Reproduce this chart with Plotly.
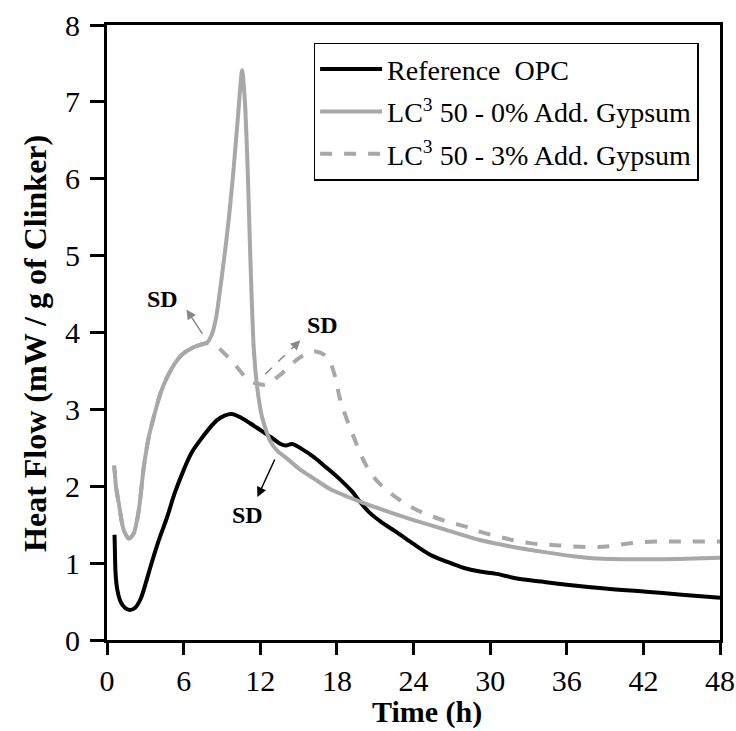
import plotly.graph_objects as go

# Reference OPC
opc_t = [0.59, 0.62, 0.67, 0.8, 1.06, 1.4, 1.78, 2.2, 2.62, 3.0, 3.4, 4.0, 4.71, 5.3, 6.0, 6.6, 7.3,
         8.0, 8.62, 9.2, 9.8, 10.5, 11.2, 12.1, 13.0, 13.6, 14.0, 14.5, 15.3, 16.2, 17.2, 18.3, 19.2,
         19.8, 20.6, 21.6, 22.7, 24.0, 25.3, 26.6, 27.9, 29.2, 30.5, 32.1, 34.0, 36.0, 39.0, 42.0,
         45.0, 48.0]
opc_q = [1.37, 1.15, 0.87, 0.66, 0.50, 0.42, 0.39, 0.42, 0.53, 0.72, 0.95, 1.27, 1.60, 1.91, 2.21,
         2.43, 2.60, 2.75, 2.86, 2.92, 2.94, 2.89, 2.82, 2.72, 2.62, 2.55, 2.53, 2.55, 2.48, 2.38,
         2.24, 2.08, 1.93, 1.80, 1.65, 1.52, 1.40, 1.25, 1.11, 1.02, 0.94, 0.89, 0.86, 0.80, 0.76,
         0.72, 0.67, 0.63, 0.59, 0.55]

# LC3 50 - 0% added gypsum
g0_t = [0.55, 0.6, 0.7, 0.92, 1.31, 1.71, 2.1, 2.49, 2.88, 3.27, 3.66, 4.19, 4.71, 5.49, 6.0, 6.8,
        7.3, 7.84, 8.2, 8.55, 8.85, 9.2, 9.55, 9.9, 10.25, 10.58, 10.8, 11.02, 11.2, 11.35, 11.49,
        11.75, 12.14, 12.8, 13.4, 14.1, 15.1, 16.2, 17.5, 19.8, 22.0, 24.0, 26.6, 29.2, 31.8, 34.4,
        36.5, 38.4, 41.0, 43.5, 46.0, 48.0]
g0_q = [2.27, 2.2, 2.0, 1.78, 1.43, 1.32, 1.39, 1.69, 2.25, 2.64, 2.90, 3.21, 3.42, 3.64, 3.73, 3.81,
        3.84, 3.87, 3.97, 4.2, 4.55, 5.0, 5.5, 6.1, 6.8, 7.41, 7.0, 6.1, 5.1, 4.35, 3.8,
        3.3, 2.90, 2.58, 2.45, 2.36, 2.22, 2.10, 1.96, 1.80, 1.67, 1.56, 1.43, 1.30, 1.21, 1.14,
        1.09, 1.06, 1.05, 1.05, 1.06, 1.07]

# LC3 50 - 3% added gypsum
g3_t = [0.55, 0.6, 0.7, 0.92, 1.31, 1.71, 2.1, 2.49, 2.88, 3.27, 3.66, 4.19, 4.71, 5.49, 6.0, 6.8,
        7.3, 7.84, 8.62, 9.3, 9.92, 10.97, 11.6, 12.27, 12.9, 13.57, 14.4, 15.14, 15.8, 16.45, 17.0,
        17.5, 17.9, 18.27, 19.2, 20.36, 21.2, 22.2, 23.4, 24.8, 26.5, 28.2, 29.2, 31.0, 33.1, 35.4,
        37.6, 39.3, 41.0, 43.0, 44.9, 48.0]
g3_q = [2.27, 2.2, 2.0, 1.78, 1.43, 1.32, 1.39, 1.69, 2.25, 2.64, 2.90, 3.21, 3.42, 3.64, 3.73, 3.81,
        3.84, 3.86, 3.81, 3.71, 3.60, 3.40, 3.34, 3.32, 3.37, 3.45, 3.58, 3.68, 3.74, 3.75, 3.71,
        3.60, 3.40, 3.12, 2.69, 2.25, 2.06, 1.91, 1.77, 1.65, 1.55, 1.47, 1.41, 1.33, 1.26, 1.23,
        1.21, 1.22, 1.26, 1.28, 1.28, 1.28]

x_ticks = [0, 6, 12, 18, 24, 30, 36, 42, 48]
y_ticks = [0, 1, 2, 3, 4, 5, 6, 7, 8]

GRAY = "#a8a8a8"
ARROW_GRAY = "#888888"
FONT = "Liberation Serif"

fig = go.Figure()
fig.add_trace(go.Scatter(x=opc_t, y=opc_q, mode="lines", name="Reference\u00a0 OPC", legendgroup="a",
                         line=dict(color="black", width=4, shape="spline", smoothing=1.0)))
fig.add_trace(go.Scatter(x=g0_t, y=g0_q, mode="lines", name="LC<sup>3</sup> 50 - 0% Add. Gypsum",
                         legendgroup="b",
                         line=dict(color=GRAY, width=4, shape="spline", smoothing=0.7)))
fig.add_trace(go.Scatter(x=g3_t, y=g3_q, mode="lines", name="LC<sup>3</sup> 50 - 3% Add. Gypsum",
                         legendgroup="c",
                         line=dict(color=GRAY, width=4, dash="dash", shape="spline", smoothing=1.0)))

sd_font = dict(family=FONT, size=24, color="black")
annotations = [
    dict(x=4.34, y=4.43, text="<b>SD</b>", showarrow=False, font=sd_font),
    dict(x=16.86, y=4.10, text="<b>SD</b>", showarrow=False, font=sd_font),
    dict(x=11.0, y=1.63, text="<b>SD</b>", showarrow=False, font=sd_font),
    dict(x=6.22, y=4.30, text="", showarrow=True, ax=17, ay=26, arrowhead=2, arrowsize=1.3,
         arrowwidth=1.5, arrowcolor=ARROW_GRAY, standoff=0),
    dict(x=15.14, y=3.90, text="", showarrow=True, ax=-8, ay=8, arrowhead=2, arrowsize=1.3,
         arrowwidth=1.5, arrowcolor=ARROW_GRAY, standoff=0),
    dict(x=11.78, y=1.86, text="", showarrow=True, ax=18, ay=-39, arrowhead=2, arrowsize=1.3,
         arrowwidth=1.5, arrowcolor="black", standoff=0),
    dict(x=0.522, y=-0.117, xref="paper", yref="paper", text="<b>Time (h)</b>", showarrow=False,
         font=dict(family=FONT, size=30, color="black"), xanchor="center", yanchor="middle"),
    dict(x=-0.1175, y=0.483, xref="paper", yref="paper", text="<b>Heat Flow (mW / g of Clinker)</b>",
         showarrow=False, font=dict(family=FONT, size=32, color="black"), textangle=-90,
         xanchor="center", yanchor="middle"),
]
fig.update_layout(annotations=annotations)
fig.add_shape(type="line", x0=12.40, y0=3.46, x1=14.9, y1=3.86, xref="x", yref="y",
              line=dict(color=ARROW_GRAY, width=1.5, dash="dash"))

fig.update_layout(
    width=736, height=731,
    margin=dict(l=107, r=16, t=25, b=91, autoexpand=False),
    paper_bgcolor="white", plot_bgcolor="white",
    font=dict(family=FONT, size=30, color="black"),
    showlegend=True,
    legend=dict(x=0.337, y=0.971, xanchor="left", yanchor="top",
                bordercolor="black", borderwidth=1.5, bgcolor="white",
                font=dict(family=FONT, size=28, color="black"),
                tracegroupgap=3, itemwidth=62),
    xaxis=dict(range=[0, 48], tickvals=x_ticks, ticks="outside", ticklen=12, tickwidth=3,
               tickcolor="black", showline=True, linecolor="black", linewidth=3, mirror=True,
               showgrid=False, zeroline=False, automargin=False,
               tickfont=dict(family=FONT, size=30)),
    yaxis=dict(range=[0, 8], tickvals=y_ticks, ticks="outside", ticklen=14, tickwidth=3,
               tickcolor="black", showline=True, linecolor="black", linewidth=3, mirror=True,
               showgrid=False, zeroline=False, automargin=False, ticklabelstandoff=4,
               tickfont=dict(family=FONT, size=30)),
)

fig.write_html("out.html")
